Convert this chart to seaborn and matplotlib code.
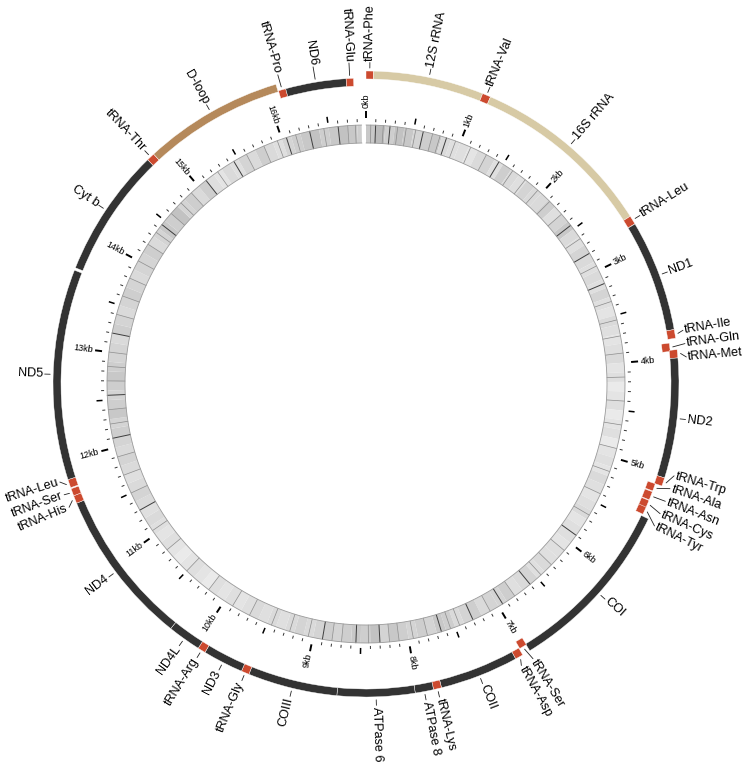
import numpy as np
import matplotlib
matplotlib.use("Agg")
import matplotlib.pyplot as plt
import seaborn as sns

# genome length
genome_len = 16890
ring_end = 16845

gene_names = ["tRNA-Phe", "12S rRNA", "tRNA-Val", "16S rRNA", "tRNA-Leu", "ND1",
              "tRNA-Ile", "tRNA-Gln", "tRNA-Met", "ND2", "tRNA-Trp", "tRNA-Ala",
              "tRNA-Asn", "tRNA-Cys", "tRNA-Tyr", "COI", "tRNA-Ser", "tRNA-Asp",
              "COII", "tRNA-Lys", "ATPase 8", "ATPase 6", "COIII", "tRNA-Gly",
              "ND3", "tRNA-Arg", "ND4L", "ND4", "tRNA-His", "tRNA-Ser", "tRNA-Leu",
              "ND5", "Cyt b", "tRNA-Thr", "D-loop", "tRNA-Pro", "ND6", "tRNA-Glu"]
gene_start = [0, 65, 1027, 1100, 2702, 2780, 3752, 3862, 3926, 3998, 5042, 5115,
              5190, 5272, 5336, 5420, 6962, 7035, 7105, 7790, 7860, 8020, 8696, 9476,
              9545, 9898, 9966, 10256, 11617, 11686, 11760, 11833, 13690, 14815, 14885,
              16110, 16176, 16715]
gene_end = [65, 1027, 1100, 2702, 2778, 3752, 3828, 3936, 3998, 5042, 5115, 5182,
            5266, 5342, 5404, 6965, 7030, 7105, 7790, 7860, 8020, 8696, 9476, 9545,
            9898, 9966, 10256, 11617, 11686, 11750, 11833, 13668, 14815, 14885, 16105,
            16176, 16715, 16780]
gene_kind = ["trna", "rrna", "trna", "rrna", "trna", "gene",
             "trna", "trna", "trna", "gene", "trna", "trna",
             "trna", "trna", "trna", "gene", "trna", "trna",
             "gene", "trna", "gene", "gene", "gene", "trna",
             "gene", "trna", "gene", "gene", "trna", "trna", "trna",
             "gene", "gene", "trna", "dloop", "trna", "gene", "trna"]
gene_strand = ["H", "H", "H", "H", "H", "H",
               "H", "L", "H", "H", "H", "L",
               "L", "L", "L", "H", "L", "H",
               "H", "H", "H", "H", "H", "H",
               "H", "H", "H", "H", "H", "H", "H",
               "H", "H", "H", "H", "L", "L", "L"]

kb_marks = list(range(0, 17))
kb_labels = [f"{k}kb" for k in kb_marks]

# shading of the inner barcode ring, one value per 100 bp (0 = white, 1 = black)
density = [
    0.50, 0.60, 0.45, 0.55, 0.50, 0.40, 0.45, 0.50, 0.35, 0.30,
    0.30, 0.25, 0.35, 0.40, 0.30, 0.45, 0.35, 0.30, 0.40, 0.35,
    0.35, 0.45, 0.30, 0.40, 0.50, 0.35, 0.30, 0.40, 0.35, 0.30,
    0.35, 0.30, 0.40, 0.30, 0.25, 0.35, 0.30, 0.25, 0.30, 0.35,
    0.25, 0.30, 0.20, 0.25, 0.30, 0.20, 0.25, 0.30, 0.20, 0.25,
    0.30, 0.25, 0.35, 0.30, 0.25, 0.30, 0.35, 0.25, 0.30, 0.30,
    0.25, 0.30, 0.30, 0.35, 0.30, 0.40, 0.35, 0.30, 0.45, 0.40,
    0.40, 0.35, 0.45, 0.40, 0.35, 0.45, 0.50, 0.40, 0.45, 0.40,
    0.45, 0.50, 0.40, 0.55, 0.45, 0.50, 0.45, 0.40, 0.45, 0.40,
    0.35, 0.40, 0.35, 0.30, 0.35, 0.30, 0.35, 0.30, 0.25, 0.30,
    0.25, 0.30, 0.20, 0.25, 0.30, 0.25, 0.20, 0.25, 0.30, 0.25,
    0.30, 0.35, 0.30, 0.35, 0.40, 0.35, 0.30, 0.35, 0.40, 0.35,
    0.40, 0.45, 0.40, 0.50, 0.45, 0.40, 0.45, 0.50, 0.45, 0.40,
    0.40, 0.35, 0.45, 0.40, 0.35, 0.40, 0.45, 0.40, 0.35, 0.40,
    0.40, 0.45, 0.35, 0.40, 0.50, 0.45, 0.55, 0.40, 0.45, 0.35,
    0.45, 0.30, 0.25, 0.35, 0.30, 0.40, 0.35, 0.45, 0.35, 0.30,
    0.40, 0.45, 0.50, 0.55, 0.45, 0.50, 0.55, 0.50, 0.45,
]
# dark streaks visible in the barcode ring (kb)
dark_streaks = [0.10, 0.25, 0.60, 0.85, 1.45, 2.45, 2.80, 3.15, 5.90, 6.60, 6.95,
                7.30, 7.65, 8.30, 8.55, 8.90, 11.30, 12.10, 12.55, 13.20, 14.45,
                15.10, 15.45, 16.05, 16.30, 16.60]
# fainter streaks that give the ring its fine texture (kb)
faint_streaks = [0.05, 0.18, 0.33, 0.42, 0.52, 0.70, 0.78, 0.95, 1.12, 1.30, 1.62,
                 1.78, 1.95, 2.12, 2.30, 2.62, 2.95, 3.35, 3.55, 3.72, 3.90, 4.15,
                 4.40, 4.65, 4.90, 5.15, 5.40, 5.65, 6.10, 6.30, 6.45, 6.80, 7.10,
                 7.45, 7.55, 7.80, 7.95, 8.10, 8.20, 8.42, 8.70, 8.80, 9.05, 9.25,
                 9.45, 9.70, 9.90, 10.20, 10.50, 10.80, 11.05, 11.50, 11.70, 11.90,
                 12.25, 12.40, 12.70, 12.85, 13.00, 13.40, 13.60, 13.80, 14.00,
                 14.20, 14.35, 14.60, 14.75, 14.90, 15.25, 15.60, 15.80, 15.95,
                 16.15, 16.45, 16.70, 16.78]

kind_colors = {"gene": "#333333", "trna": "#cc4a2f", "rrna": "#d7caa5", "dloop": "#b5895b"}

sns.set_theme(style="white")
plt.rcParams["font.family"] = ["Liberation Sans", "DejaVu Sans"]


def to_rad(bp):
    return np.asarray(bp, dtype=float) / genome_len * 2 * np.pi


def spread(angles, min_gap):
    a = np.asarray(angles, dtype=float)
    order = np.argsort(a)
    s = a[order].copy()
    for _ in range(300):
        moved = False
        for i in range(len(s) - 1):
            d = s[i + 1] - s[i]
            if d < min_gap - 1e-6:
                shift = (min_gap - d) / 2
                s[i] -= shift
                s[i + 1] += shift
                moved = True
        if not moved:
            break
    out = np.empty_like(s)
    out[order] = s
    return out


def radial_text(theta_deg, r, text, size, color="black"):
    t = theta_deg % 360
    if t < 180:
        rot, ha = 90 - t, "left"
    else:
        rot, ha = 270 - t, "right"
    ax.text(np.deg2rad(t), r, text, rotation=rot, rotation_mode="anchor",
            ha=ha, va="center", fontsize=size, color=color)


fig = plt.figure(figsize=(7.48, 7.67), dpi=100)
ax = fig.add_axes([(366 - 370) / 748, 13 / 767, 740 / 748, 740 / 767], projection="polar")
ax.set_theta_zero_location("N")
ax.set_theta_direction(-1)
ax.set_ylim(0, 370)
ax.set_axis_off()

# barcode ring
greys = sns.color_palette("Greys", as_cmap=True)
bin_start = np.arange(len(density)) * 100
bin_end = np.minimum(bin_start + 100, ring_end)
ax.bar(to_rad(bin_start), 18, width=to_rad(bin_end - bin_start), bottom=241,
       align="edge", color=[greys(0.05 + 0.55 * v) for v in density], linewidth=0)
for kb in faint_streaks:
    th = to_rad(kb * 1000)
    ax.plot([th, th], [241, 259], color="#8a8a8a", lw=0.5)
for kb in dark_streaks:
    th = to_rad(kb * 1000)
    ax.plot([th, th], [241, 259], color="#3c3c3c", lw=0.7)
edge_th = np.linspace(0, to_rad(ring_end), 600)
for rr in (241, 259):
    ax.plot(edge_th, np.full_like(edge_th, rr), color="#9a9a9a", lw=0.6)

# position ticks and kb labels
for pos in range(0, genome_len, 100):
    th = to_rad(pos)
    if pos % 1000 == 0:
        ax.plot([th, th], [266, 273], color="black", lw=1.4, solid_capstyle="butt")
    elif pos % 500 == 0:
        ax.plot([th, th], [264, 270], color="black", lw=1.1, solid_capstyle="butt")
    else:
        ax.plot([th, th], [262, 265], color="#333333", lw=0.7, solid_capstyle="butt")
for k, lab in zip(kb_marks, kb_labels):
    radial_text(k * 1000 / genome_len * 360, 275.5, lab, 6.5)

# gene ring
g_start = np.array(gene_start)
g_end = np.array(gene_end)
g_bottom = np.array([305 if s == "H" else 298 for s in gene_strand])
ax.bar(to_rad(g_start), 8, width=to_rad(g_end - g_start), bottom=g_bottom,
       align="edge", color=[kind_colors[k] for k in gene_kind],
       edgecolor="white", linewidth=0.3)

# gene labels with leader lines
centre_deg = (g_start + g_end) / 2 / genome_len * 360
label_deg = spread(centre_deg, 2.4)
for name, c, l, b in zip(gene_names, centre_deg, label_deg, g_bottom):
    ax.plot([np.deg2rad(c), np.deg2rad(l)], [b + 11, 321.5], color="#222222", lw=0.6)
    radial_text(l, 323, name, 9.1)

fig.savefig("out.png", dpi=100)
